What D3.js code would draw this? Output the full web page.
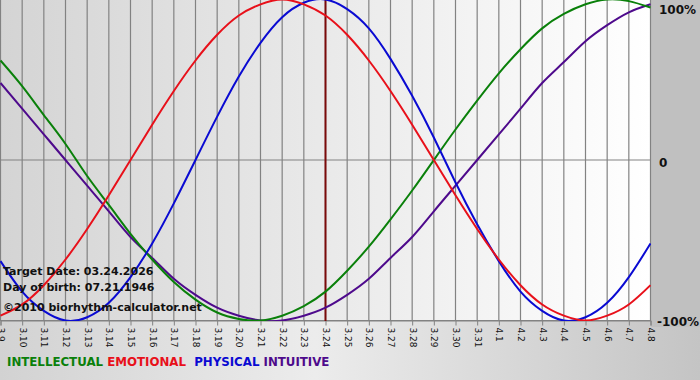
<!DOCTYPE html>
<html>
<head>
<meta charset="utf-8">
<script src="https://cdn.jsdelivr.net/npm/d3@7"></script>
<style>
  html, body { margin: 0; padding: 0; background: #fff; }
  svg { display: block; font-family: "DejaVu Sans", Verdana, sans-serif; }
</style>
</head>
<body>
<svg id="chart" width="700" height="380"></svg>
<script>
// day labels on the x axis (month.day)
const days = ["3.9", "3.10", "3.11", "3.12", "3.13", "3.14", "3.15", "3.16", "3.17", "3.18",
    "3.19", "3.20", "3.21", "3.22", "3.23", "3.24", "3.25", "3.26", "3.27", "3.28",
    "3.29", "3.30", "3.31", "4.1", "4.2", "4.3", "4.4", "4.5", "4.6", "4.7", "4.8"];

const targetDay = "3.24";

// cycle values, one per day (-1 .. 1)
const physical = [-0.63, -0.82, -0.94, -1.00, -0.98, -0.89, -0.73, -0.52, -0.27, 0.00,
    0.27, 0.52, 0.73, 0.89, 0.98, 1.00, 0.94, 0.82, 0.63, 0.40,
    0.14, -0.14, -0.40, -0.63, -0.82, -0.94, -1.00, -0.98, -0.89, -0.73, -0.52];
const emotional = [-0.97, -0.90, -0.78, -0.62, -0.43, -0.22, 0.00, 0.22, 0.43, 0.62,
    0.78, 0.90, 0.97, 1.00, 0.97, 0.90, 0.78, 0.62, 0.43, 0.22,
    0.00, -0.22, -0.43, -0.62, -0.78, -0.90, -0.97, -1.00, -0.97, -0.90, -0.78];
const intellectual = [0.62, 0.46, 0.28, 0.10, -0.10, -0.28, -0.46, -0.62, -0.76, -0.87,
    -0.95, -0.99, -1.00, -0.97, -0.91, -0.82, -0.69, -0.54, -0.37, -0.19,
    0.00, 0.19, 0.37, 0.54, 0.69, 0.82, 0.91, 0.97, 1.00, 0.99, 0.95];
const intuitive = [0.48, 0.32, 0.16, 0.00, -0.16, -0.32, -0.48, -0.61, -0.74, -0.84,
    -0.92, -0.97, -1.00, -1.00, -0.97, -0.92, -0.84, -0.74, -0.61, -0.48,
    -0.32, -0.16, 0.00, 0.16, 0.32, 0.48, 0.61, 0.74, 0.84, 0.92, 0.97];

const yTicks = [1, 0, -1];
const yTickLabels = ["100%", "0", "-100%"];

const infoLines = ["Target Date: 03.24.2026", "Day of birth: 07.21.1946", "\u00a92010 biorhythm-calculator.net"];

const series = [
    { name: "INTELLECTUAL", values: intellectual, color: "#0a800a" },
    { name: "EMOTIONAL", values: emotional, color: "#e8101a" },
    { name: "PHYSICAL", values: physical, color: "#0a0ad2" },
    { name: "INTUITIVE", values: intuitive, color: "#4e0a8c" }
];

const svg = d3.select("#chart");
const plotW = 651, plotH = 321;

const defs = svg.append("defs");

// outer background (bottom strip) gradient
const outerGrad = defs.append("linearGradient").attr("id", "outerGrad");
outerGrad.append("stop").attr("offset", "0%").attr("stop-color", "#d2d2d2");
outerGrad.append("stop").attr("offset", "45%").attr("stop-color", "#ececec");
outerGrad.append("stop").attr("offset", "100%").attr("stop-color", "#c4c4c4");

// plot area gradient, grey on the left to white on the right
const plotGrad = defs.append("linearGradient").attr("id", "plotGrad");
plotGrad.append("stop").attr("offset", "0%").attr("stop-color", "#d4d4d4");
plotGrad.append("stop").attr("offset", "100%").attr("stop-color", "#ffffff");

defs.append("clipPath").attr("id", "plotClip")
    .append("rect").attr("x", 0).attr("y", 0).attr("width", plotW).attr("height", plotH);

svg.append("rect")
    .attr("width", 700).attr("height", 380)
    .attr("fill", "url(#outerGrad)");

svg.append("rect")
    .attr("x", plotW).attr("y", 0)
    .attr("width", 700 - plotW).attr("height", plotH + 6)
    .attr("fill", "#c0c0c0");

svg.append("rect")
    .attr("width", plotW).attr("height", plotH)
    .attr("fill", "url(#plotGrad)");

// Create scales
const x = d3.scalePoint()
    .domain(days)
    .range([0.5, 650.5]);

const y = d3.scaleLinear()
    .domain([-1, 1])
    .range([plotH - 0.5, -0.5]);

// vertical grid lines
svg.append("g")
    .selectAll("line")
    .data(days)
    .enter()
    .append("line")
    .attr("x1", d => x(d))
    .attr("x2", d => x(d))
    .attr("y1", 0)
    .attr("y2", plotH)
    .attr("stroke", "#828282")
    .attr("stroke-width", 1.2);

// horizontal grid lines
svg.append("g")
    .selectAll("line")
    .data(yTicks)
    .enter()
    .append("line")
    .attr("x1", 0)
    .attr("x2", plotW)
    .attr("y1", d => y(d))
    .attr("y2", d => y(d))
    .attr("stroke", "#828282")
    .attr("stroke-width", 1.2);

// bottom axis with rotated day labels
const xAxis = svg.append("g")
    .attr("transform", `translate(0,${plotH - 0.5})`)
    .call(d3.axisBottom(x).tickSize(5).tickPadding(4));
xAxis.select(".domain").attr("stroke", "#828282");
xAxis.selectAll(".tick line").attr("stroke", "#828282");
xAxis.selectAll("text")
    .attr("transform", "rotate(90)")
    .attr("x", 7)
    .attr("y", 0)
    .attr("dy", "0.32em")
    .style("text-anchor", "start")
    .style("font-size", "9px")
    .style("font-family", "DejaVu Sans, sans-serif")
    .attr("fill", "#111");

// right axis labels (top one pushed down so it stays inside)
svg.append("g")
    .selectAll("text")
    .data(yTicks)
    .enter()
    .append("text")
    .attr("x", (d, i) => i === 2 ? 657 : 659)
    .attr("y", (d, i) => [9, y(d) + 2, y(d) + 1][i])
    .attr("dy", "0.38em")
    .style("font-size", "12px")
    .style("font-weight", "bold")
    .attr("fill", "#111")
    .text((d, i) => yTickLabels[i]);

// target day marker
svg.append("line")
    .attr("x1", x(targetDay))
    .attr("x2", x(targetDay))
    .attr("y1", 0)
    .attr("y2", plotH)
    .attr("stroke", "#7a0a0a")
    .attr("stroke-width", 2);

// cycle curves
const line = d3.line()
    .x((d, i) => x(days[i]))
    .y(d => y(d))
    .curve(d3.curveNatural);

const curves = svg.append("g").attr("clip-path", "url(#plotClip)");
curves.selectAll("path")
    .data([intuitive, intellectual, physical, emotional].map(v => series.find(s => s.values === v)))
    .enter()
    .append("path")
    .attr("d", d => line(d.values))
    .attr("fill", "none")
    .attr("stroke", d => d.color)
    .attr("stroke-width", 2);

// info text
svg.append("g")
    .selectAll("text")
    .data(infoLines)
    .enter()
    .append("text")
    .attr("x", 3)
    .attr("y", (d, i) => [275, 291, 311][i])
    .style("font-size", "11px")
    .style("font-weight", "bold")
    .attr("fill", "#111")
    .text(d => d);

// legend
const legend = svg.append("text")
    .attr("x", 7)
    .attr("y", 366)
    .style("font-size", "11.8px")
    .style("font-weight", "bold");
series.forEach((s, i) => {
    legend.append("tspan")
        .attr("fill", s.color)
        .text((i > 0 ? (i === 2 ? "\u00a0\u00a0" : "\u00a0") : "") + s.name);
});
</script>
</body>
</html>
